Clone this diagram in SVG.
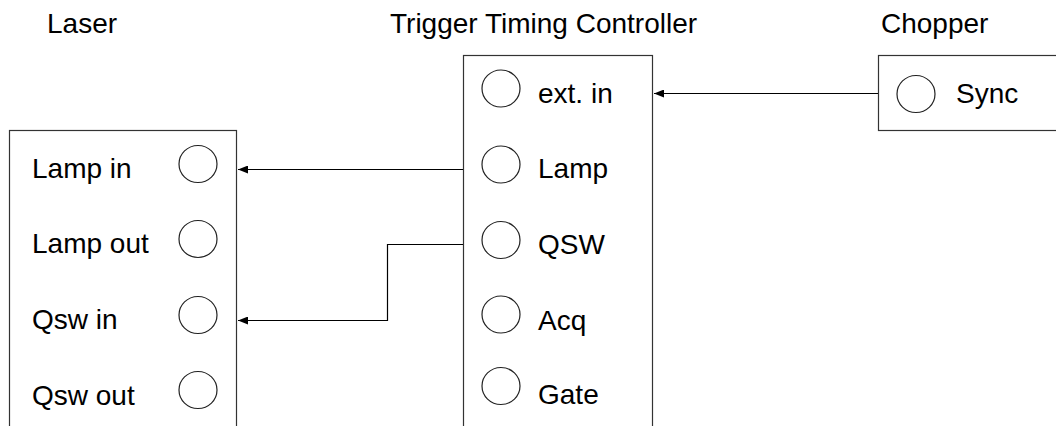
<svg xmlns="http://www.w3.org/2000/svg" width="1056" height="426" viewBox="0 0 1056 426">
<style>
text{font-family:"Liberation Sans",Arial,sans-serif;font-size:28px;fill:#000}
.box{fill:#fff;stroke:#333;stroke-width:1.2}
.port{fill:none;stroke:#222;stroke-width:1.2}
.wire{fill:none;stroke:#000;stroke-width:1.2}
</style>
<defs>
<marker id="arr" markerWidth="10" markerHeight="8" refX="10" refY="4" orient="auto" markerUnits="userSpaceOnUse">
<path d="M0,0 L10,4 L0,8 Z" fill="#000"/>
</marker>
</defs>
<g id="laser">
<text x="47" y="33">Laser</text>
<rect class="box" x="9.5" y="130.5" width="227" height="310"/>
<text x="32" y="178">Lamp in</text>
<ellipse class="port" cx="198" cy="164" rx="19" ry="18.5"/>
<text x="32" y="253">Lamp out</text>
<ellipse class="port" cx="198" cy="239" rx="19" ry="18.5"/>
<text x="32" y="329">Qsw in</text>
<ellipse class="port" cx="198" cy="315" rx="19" ry="18.5"/>
<text x="32" y="405">Qsw out</text>
<ellipse class="port" cx="198" cy="390" rx="19" ry="18.5"/>
</g>
<g id="controller">
<text x="390" y="33">Trigger Timing Controller</text>
<rect class="box" x="463.5" y="55.5" width="189" height="390"/>
<ellipse class="port" cx="501" cy="88.5" rx="19" ry="18.5"/>
<text x="538" y="103">ext. in</text>
<ellipse class="port" cx="501" cy="164.5" rx="19" ry="18.5"/>
<text x="538" y="178">Lamp</text>
<ellipse class="port" cx="501" cy="240" rx="19" ry="18.5"/>
<text x="538" y="254">QSW</text>
<ellipse class="port" cx="501" cy="314.5" rx="19" ry="18.5"/>
<text x="538" y="330">Acq</text>
<ellipse class="port" cx="501" cy="386" rx="19" ry="18.5"/>
<text x="538" y="404">Gate</text>
</g>
<g id="chopper">
<text x="881" y="33">Chopper</text>
<rect class="box" x="878.5" y="55.5" width="190" height="75"/>
<ellipse class="port" cx="916" cy="94" rx="19" ry="18.5"/>
<text x="956" y="103">Sync</text>
</g>
<g id="connectors">
<path class="wire" d="M463,169.5 H238" marker-end="url(#arr)"/>
<path class="wire" d="M463,244.5 H387.5 V320.5 H238" marker-end="url(#arr)"/>
<path class="wire" d="M878,93.5 H654" marker-end="url(#arr)"/>
</g>
</svg>
